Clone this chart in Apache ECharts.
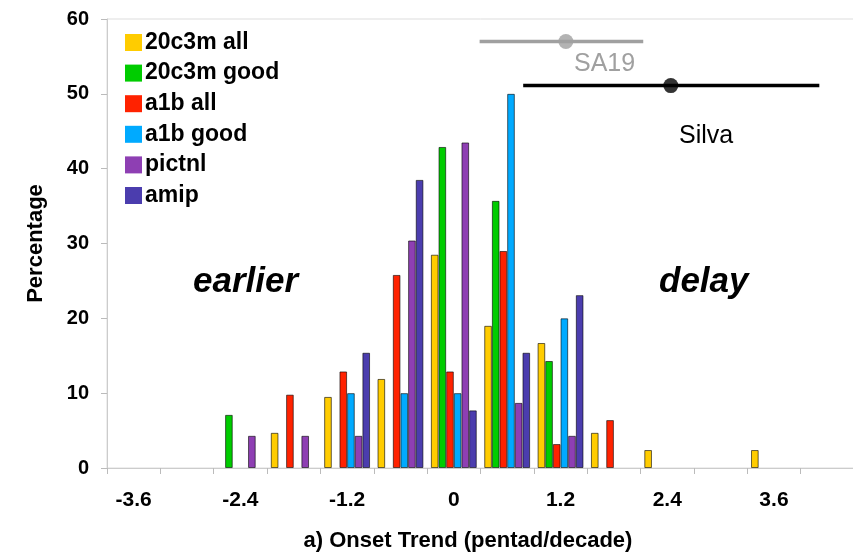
<!DOCTYPE html>
<html><head><meta charset="utf-8">
<script src="https://cdn.jsdelivr.net/npm/echarts@6/dist/echarts.min.js"></script>
<style>html,body{margin:0;padding:0;background:#fff}#c{width:853px;height:553px}</style>
</head><body><div id="c"></div>
<script>
const categories = ['-3.6','-3.0','-2.4','-1.8','-1.2','-0.6','0','0.6','1.2','1.8','2.4','3.0','3.6','4.2'];
const s20c3mAll  = [null,null,null,4.7,9.5,11.9,28.5,19.0,16.7,4.7,2.4,null,2.4,null];
const s20c3mGood = [null,null,7.1,null,null,null,42.9,35.7,14.3,null,null,null,null,null];
const a1bAll     = [null,null,null,9.8,12.9,25.8,12.9,29.0,3.2,6.4,null,null,null,null];
const a1bGood    = [null,null,null,null,10.0,10.0,10.0,50.0,20.0,null,null,null,null,null];
const pictnl     = [null,null,4.3,4.3,4.3,30.4,43.5,8.7,4.3,null,null,null,null,null];
const amip       = [null,null,null,null,15.4,38.5,7.7,15.4,23.1,null,null,null,null,null];
const seriesNames = ['20c3m all','20c3m good','a1b all','a1b good','pictnl','amip'];
const seriesColors = ['#FFCC00','#00CC00','#FF2200','#00AAFF','#8E3FB3','#4B3DAE'];
const yTicks = [0,10,20,30,40,50,60];
// Observational estimates: [low, best, high] trend and the y level where drawn
const sa19 = {low:0.29, best:1.26, high:2.13, y:57};
const silva = {low:0.78, best:2.44, high:4.11, y:51.1};

const chart = echarts.init(document.getElementById('c'));
const font = 'Liberation Sans, Arial, sans-serif';
const barData = [s20c3mAll,s20c3mGood,a1bAll,a1bGood,pictnl,amip];
const series = barData.map((d,i)=>({
  name: seriesNames[i], type:'bar', data:d, barGap:'0%', barCategoryGap:'14%',
  itemStyle:{color:seriesColors[i], borderColor:'rgba(0,0,0,0.6)', borderWidth:1}
}));
function errSeries(o, color){
  return [
    {type:'line', xAxisIndex:1, data:[[o.low,o.y],[o.high,o.y]], symbol:'none',
     lineStyle:{color:color,width:3.5}, silent:true, z:5},
    {type:'scatter', xAxisIndex:1, data:[[o.best,o.y]], symbolSize:15,
     itemStyle:{color:color}, silent:true, z:6}
  ];
}
series.push(...errSeries(sa19,'#A0A0A0'));
series.push(...errSeries(silva,'#000000'));

chart.setOption({
  animation:false,
  textStyle:{fontFamily:font},
  grid:{left:107,right:-1,top:19,bottom:85,outerBoundsMode:'none',containLabel:false,
    show:true,borderColor:'#DDDDDD',borderWidth:1},
  legend:{data:seriesNames, orient:'vertical', left:120, top:26, itemWidth:17, itemHeight:17, itemGap:7.6,
    icon:'rect', itemStyle:{borderWidth:0},
    textStyle:{fontSize:23, fontWeight:'bold', color:'#000', fontFamily:font, padding:[0,0,0,-2]}},
  xAxis:[{
    type:'category', data:categories, boundaryGap:true,
    name:'a) Onset Trend (pentad/decade)', nameLocation:'middle', nameGap:62,
    nameTextStyle:{fontSize:22,fontWeight:'bold',color:'#000',padding:[0,0,0,-25]},
    axisLine:{lineStyle:{color:'#CCCCCC'}},
    axisTick:{show:true, interval:0, length:6, lineStyle:{color:'#BBBBBB'}},
    axisLabel:{interval:1, fontSize:21, fontWeight:'bold', color:'#000', margin:22}
  },{
    type:'value', min:-3.9, max:4.5, show:false
  }],
  yAxis:{
    type:'value', min:0, max:60, interval:10,
    name:'Percentage', nameLocation:'middle', nameGap:60,
    nameTextStyle:{fontSize:22,fontWeight:'bold',color:'#000'},
    axisLine:{show:true,onZero:false,lineStyle:{color:'#CCCCCC'}},
    axisTick:{show:true,length:6,lineStyle:{color:'#BBBBBB'}},
    splitLine:{show:false},
    axisLabel:{fontSize:20,fontWeight:'bold',color:'#000',margin:18,
      formatter:v=>yTicks.includes(v)?String(v):''}
  },
  graphic:[
    {type:'text', left:574, top:52, style:{text:'SA19', fontSize:25, fill:'#A0A0A0', fontFamily:font}},
    {type:'text', left:679, top:124, style:{text:'Silva', fontSize:25, fill:'#000', fontFamily:font}},
    {type:'text', left:193, top:265, style:{text:'earlier', fontSize:35, fontWeight:'bold', fontStyle:'italic', fill:'#000', fontFamily:font}},
    {type:'text', left:659, top:265, style:{text:'delay', fontSize:35, fontWeight:'bold', fontStyle:'italic', fill:'#000', fontFamily:font}}
  ],
  series:series
});
</script></body></html>
